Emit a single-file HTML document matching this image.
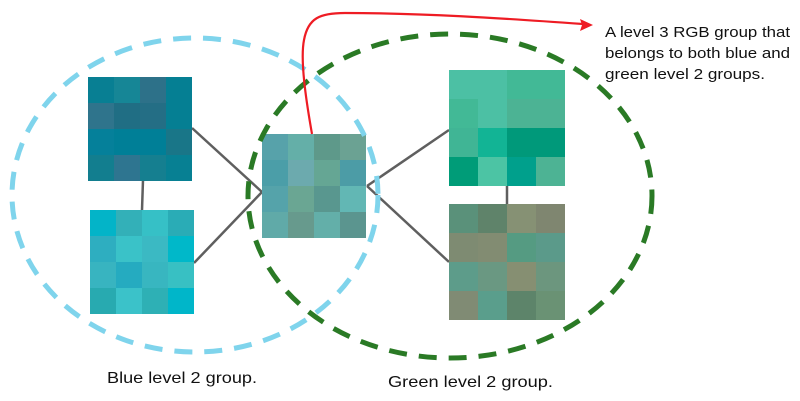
<!DOCTYPE html>
<html><head><style>body{margin:0;background:#fff}svg{display:block}</style></head><body>
<svg width="800" height="401" viewBox="0 0 800 401" xmlns="http://www.w3.org/2000/svg" font-family="'Liberation Sans', Arial, sans-serif">
<g stroke="#5f5f5f" stroke-width="2.5" fill="none">
<line x1="143" y1="180" x2="142" y2="210"/>
<line x1="192" y1="128" x2="262" y2="192"/>
<line x1="194" y1="263" x2="262" y2="192"/>
<line x1="367" y1="186" x2="449" y2="130"/>
<line x1="367" y1="186" x2="449" y2="262"/>
<line x1="507" y1="186" x2="507" y2="204"/>
</g>
<g transform="translate(88,77)">
<rect x="0" y="0" width="26" height="26" fill="#087f93"/><rect x="26" y="0" width="26" height="26" fill="#168696"/><rect x="52" y="0" width="26" height="26" fill="#2d7189"/><rect x="78" y="0" width="26" height="26" fill="#057f93"/>
<rect x="0" y="26" width="26" height="26" fill="#2f748c"/><rect x="26" y="26" width="26" height="26" fill="#206e84"/><rect x="52" y="26" width="26" height="26" fill="#246e85"/><rect x="78" y="26" width="26" height="26" fill="#057f93"/>
<rect x="0" y="52" width="26" height="26" fill="#05809a"/><rect x="26" y="52" width="26" height="26" fill="#007f97"/><rect x="52" y="52" width="26" height="26" fill="#007f97"/><rect x="78" y="52" width="26" height="26" fill="#197688"/>
<rect x="0" y="78" width="26" height="26" fill="#127e8f"/><rect x="26" y="78" width="26" height="26" fill="#2e7590"/><rect x="52" y="78" width="26" height="26" fill="#157f90"/><rect x="78" y="78" width="26" height="26" fill="#078093"/>
</g>
<g transform="translate(90,210)">
<rect x="0" y="0" width="26" height="26" fill="#03b4c8"/><rect x="26" y="0" width="26" height="26" fill="#33b0b8"/><rect x="52" y="0" width="26" height="26" fill="#36c0c6"/><rect x="78" y="0" width="26" height="26" fill="#2aacb6"/>
<rect x="0" y="26" width="26" height="26" fill="#2eaec0"/><rect x="26" y="26" width="26" height="26" fill="#3ac2c8"/><rect x="52" y="26" width="26" height="26" fill="#3bb9c3"/><rect x="78" y="26" width="26" height="26" fill="#00b8c9"/>
<rect x="0" y="52" width="26" height="26" fill="#38b4c0"/><rect x="26" y="52" width="26" height="26" fill="#25abc0"/><rect x="52" y="52" width="26" height="26" fill="#38b6c0"/><rect x="78" y="52" width="26" height="26" fill="#38c0c3"/>
<rect x="0" y="78" width="26" height="26" fill="#28aab0"/><rect x="26" y="78" width="26" height="26" fill="#3bc2c9"/><rect x="52" y="78" width="26" height="26" fill="#2eb0b5"/><rect x="78" y="78" width="26" height="26" fill="#00b6c9"/>
</g>
<g transform="translate(262,134)">
<rect x="0" y="0" width="26" height="26" fill="#57a2aa"/><rect x="26" y="0" width="26" height="26" fill="#64afa8"/><rect x="52" y="0" width="26" height="26" fill="#5e998a"/><rect x="78" y="0" width="26" height="26" fill="#6ba293"/>
<rect x="0" y="26" width="26" height="26" fill="#4b9ea8"/><rect x="26" y="26" width="26" height="26" fill="#6caaae"/><rect x="52" y="26" width="26" height="26" fill="#65a694"/><rect x="78" y="26" width="26" height="26" fill="#4c9ca6"/>
<rect x="0" y="52" width="26" height="26" fill="#55a3aa"/><rect x="26" y="52" width="26" height="26" fill="#6aa693"/><rect x="52" y="52" width="26" height="26" fill="#59978f"/><rect x="78" y="52" width="26" height="26" fill="#62b7b4"/>
<rect x="0" y="78" width="26" height="26" fill="#60aaa8"/><rect x="26" y="78" width="26" height="26" fill="#679a8d"/><rect x="52" y="78" width="26" height="26" fill="#63afa9"/><rect x="78" y="78" width="26" height="26" fill="#5b958f"/>
</g>
<g transform="translate(449,70)">
<rect x="0" y="0" width="29" height="29" fill="#4cc0a4"/><rect x="29" y="0" width="29" height="29" fill="#4cc0a4"/><rect x="58" y="0" width="29" height="29" fill="#42b996"/><rect x="87" y="0" width="29" height="29" fill="#42b996"/>
<rect x="0" y="29" width="29" height="29" fill="#42b996"/><rect x="29" y="29" width="29" height="29" fill="#4cc0a4"/><rect x="58" y="29" width="29" height="29" fill="#4cb394"/><rect x="87" y="29" width="29" height="29" fill="#4cb394"/>
<rect x="0" y="58" width="29" height="29" fill="#40b595"/><rect x="29" y="58" width="29" height="29" fill="#12b495"/><rect x="58" y="58" width="29" height="29" fill="#00997a"/><rect x="87" y="58" width="29" height="29" fill="#00997a"/>
<rect x="0" y="87" width="29" height="29" fill="#009c78"/><rect x="29" y="87" width="29" height="29" fill="#4cc4a4"/><rect x="58" y="87" width="29" height="29" fill="#00a08c"/><rect x="87" y="87" width="29" height="29" fill="#4db394"/>
</g>
<g transform="translate(449,204)">
<rect x="0" y="0" width="29" height="29" fill="#5a917a"/><rect x="29" y="0" width="29" height="29" fill="#5f836a"/><rect x="58" y="0" width="29" height="29" fill="#869174"/><rect x="87" y="0" width="29" height="29" fill="#7f8670"/>
<rect x="0" y="29" width="29" height="29" fill="#7e8b72"/><rect x="29" y="29" width="29" height="29" fill="#828c72"/><rect x="58" y="29" width="29" height="29" fill="#559b82"/><rect x="87" y="29" width="29" height="29" fill="#5b9a8a"/>
<rect x="0" y="58" width="29" height="29" fill="#5d9c8a"/><rect x="29" y="58" width="29" height="29" fill="#6a9882"/><rect x="58" y="58" width="29" height="29" fill="#868f72"/><rect x="87" y="58" width="29" height="29" fill="#6c967e"/>
<rect x="0" y="87" width="29" height="29" fill="#808b74"/><rect x="29" y="87" width="29" height="29" fill="#5a9e8c"/><rect x="58" y="87" width="29" height="29" fill="#5d846a"/><rect x="87" y="87" width="29" height="29" fill="#6a9274"/>
</g>
<ellipse cx="195" cy="195" rx="183" ry="157" fill="none" stroke="#7fd4ec" stroke-width="5" stroke-dasharray="18 12"/>
<ellipse cx="450" cy="196" rx="202" ry="162" fill="none" stroke="#2a7a25" stroke-width="5" stroke-dasharray="18 12"/>
<path d="M312,134 C306,100 300,60 304,40 C308,18 320,13 345,13 C420,13 500,18 583,24" fill="none" stroke="#ee1c24" stroke-width="2.2"/>
<path d="M593,25 L580,19 L582,25 L580,31 Z" fill="#ee1c24"/>
<g font-size="15" fill="#111">
<text x="605" y="37" textLength="185" lengthAdjust="spacingAndGlyphs">A level 3 RGB group that</text>
<text x="605" y="58" textLength="185" lengthAdjust="spacingAndGlyphs">belongs to both blue and</text>
<text x="605" y="79" textLength="160" lengthAdjust="spacingAndGlyphs">green level 2 groups.</text>
<text x="107" y="383" font-size="16" textLength="150" lengthAdjust="spacingAndGlyphs">Blue level 2 group.</text>
<text x="388" y="387" font-size="16" textLength="165" lengthAdjust="spacingAndGlyphs">Green level 2 group.</text>
</g>
</svg>
</body></html>
